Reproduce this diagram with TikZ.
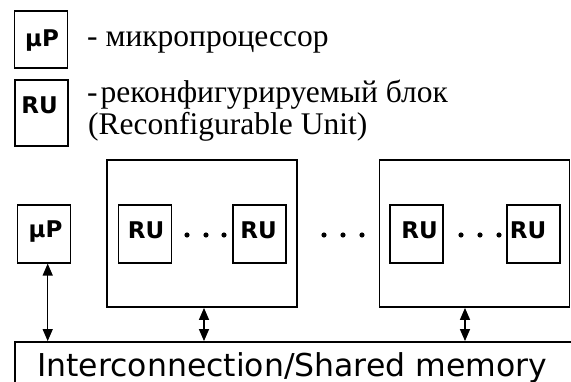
\documentclass[tikz,border=0pt]{standalone}
\usepackage{fontspec}
\setmainfont{Liberation Serif}
\newfontfamily\dejavu{DejaVu Sans}
\usetikzlibrary{arrows.meta}
\tikzset{
  legbox/.style={draw, line width=1.4pt, inner sep=0pt, minimum width=53pt},
  smallbox/.style={draw, line width=1.2pt, inner sep=0pt, minimum width=53pt, minimum height=58pt},
  bigbox/.style={draw, line width=1.8pt, inner sep=0pt, minimum width=190pt, minimum height=147pt},
  membox/.style={draw, line width=1.8pt, inner sep=0pt, minimum width=580pt, minimum height=70pt},
  boxlabel/.style={font=\dejavu\bfseries\fontsize{23}{23}\selectfont, inner sep=0pt, anchor=base},
  legtext/.style={font=\fontsize{31.5}{32}\selectfont, inner sep=0pt, anchor=base west},
  memtext/.style={font=\dejavu\fontsize{31.5}{32}\selectfont, inner sep=0pt, anchor=base west},
  biarrow/.style={line width=1.3pt, {Triangle[length=12pt,width=10pt]}-{Triangle[length=12pt,width=10pt]}},
  dotmark/.style={fill=black, draw=none}
}
\begin{document}
\begin{tikzpicture}[x=1pt,y=-1pt]
\useasboundingbox (0,0) rectangle (571,382);
\clip (0,0) rectangle (571,382);
\fill[white] (0,0) rectangle (571,382);
% legend
\node[legbox, minimum height=57pt] (lmp) at (41,39.5) {};
\node[boxlabel] (lmpt) at (42,46.5) {µP};
\node[legtext] (l1) at (87,47) {- микропроцессор};
\node[legbox, minimum height=66pt] (lru) at (41.5,113) {};
\node[boxlabel] (lrut) at (39.5,113.5) {RU};
\node[legtext] (l2) at (87,103) {-\hspace{3pt}реконфигурируемый блок};
\node[legtext] (l3) at (88,135) {(Reconfigurable Unit)};
% main
\node[smallbox] (mp) at (44,234) {};
\node[boxlabel] (mpt) at (45.5,237.5) {µP};
\node[bigbox] (b1) at (202,233.5) {};
\node[smallbox] (r1) at (145,234) {};
\node[boxlabel] (r1t) at (146,239) {RU};
\node[smallbox] (r2) at (259.5,234) {};
\node[boxlabel] (r2t) at (258.5,239) {RU};
\node[bigbox] (b2) at (474.5,233.5) {};
\node[smallbox] (r3) at (416.5,234) {};
\node[boxlabel] (r3t) at (419.5,239) {RU};
\node[smallbox] (r4) at (533.5,234) {};
\node[boxlabel] (r4t) at (528,239) {RU};
\foreach \x in {187,206,224,324,343,362,461,480,499}
  \fill[dotmark] (\x,235) circle (2.6);
\node[membox] (mem) at (305,377) {};
\node[memtext] (memt) at (37,377) {Interconnection/Shared memory};
% arrows
\draw[biarrow] ([xshift=3.7pt]mp.south) -- ([xshift=3.7pt]mp.south |- mem.north);
\draw[biarrow] ([xshift=2pt]b1.south) -- ([xshift=2pt]b1.south |- mem.north);
\draw[biarrow] ([xshift=-9.5pt]b2.south) -- ([xshift=-9.5pt]b2.south |- mem.north);
\end{tikzpicture}
\end{document}
